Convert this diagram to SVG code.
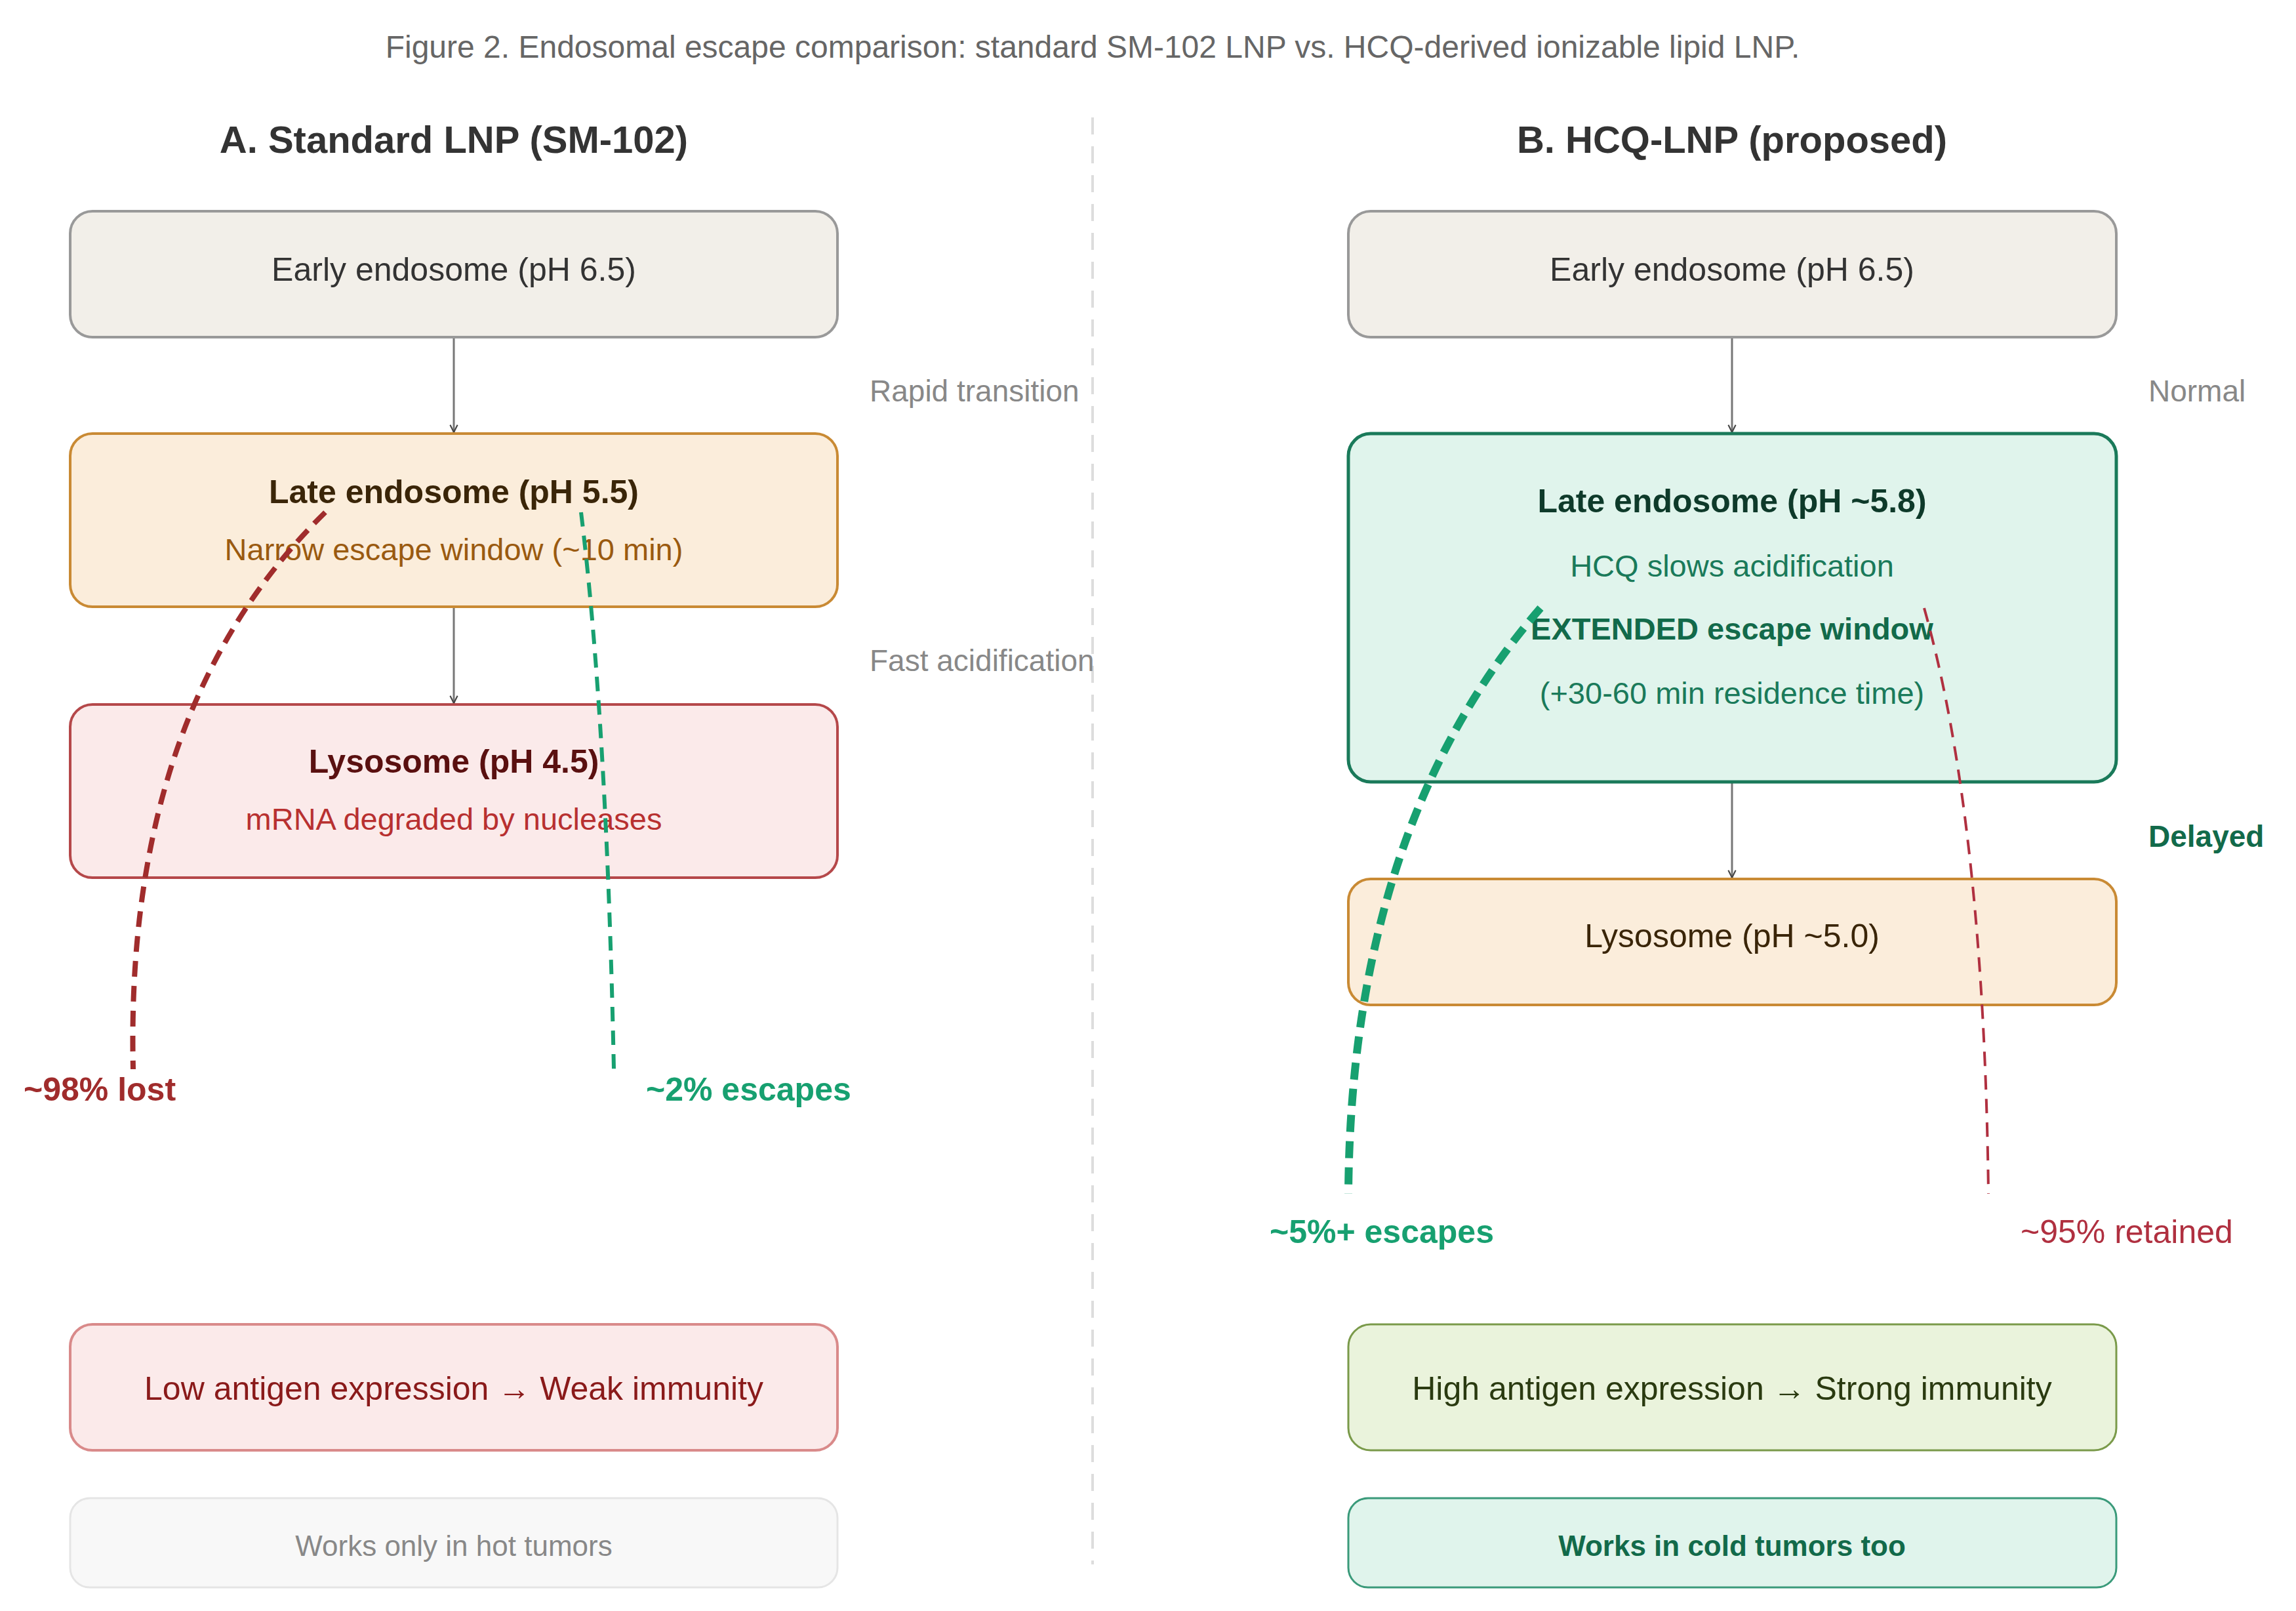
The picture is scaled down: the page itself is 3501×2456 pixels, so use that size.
<svg xmlns="http://www.w3.org/2000/svg" width="3501" height="2456" viewBox="0 0 3501 2456">
<style>
text{font-family:"Liberation Sans",Arial,sans-serif;text-anchor:middle;dominant-baseline:central}
.t{font-size:50px}
.b{font-weight:bold}
.side{font-size:46px;fill:#888;text-anchor:start}
.box{stroke-width:4}
.conn{stroke:#777;stroke-width:3;fill:none}
</style>
<defs>
<marker id="ah" viewBox="0 0 10 10" refX="9" refY="5" markerWidth="14" markerHeight="14" markerUnits="userSpaceOnUse" orient="auto"><path d="M1,1 L9,5 L1,9" fill="none" stroke="#444" stroke-width="1.5"/></marker>
</defs>
<rect width="3501" height="2456" fill="#fff"/>
<text x="1666" y="71" style="font-size:48px;fill:#666">Figure 2. Endosomal escape comparison: standard SM-102 LNP vs. HCQ-derived ionizable lipid LNP.</text>
<text x="692" y="212" class="b" style="font-size:58px;fill:#333">A. Standard LNP (SM-102)</text>
<text x="2641" y="212" class="b" style="font-size:58px;fill:#333">B. HCQ-LNP (proposed)</text>
<line x1="1666" y1="179" x2="1666" y2="2385" stroke="#ddd" stroke-width="4" stroke-dasharray="26,18"/>
<g id="connectors">
<line class="conn" x1="692" y1="514" x2="692" y2="659" marker-end="url(#ah)"/>
<line class="conn" x1="692" y1="925" x2="692" y2="1072" marker-end="url(#ah)"/>
<line class="conn" x1="2641" y1="514" x2="2641" y2="659" marker-end="url(#ah)"/>
<line class="conn" x1="2641" y1="1192" x2="2641" y2="1338" marker-end="url(#ah)"/>
</g>
<g id="a-early"><rect class="box" x="107" y="322" width="1170" height="192" rx="34" fill="#f2efe9" stroke="#999"/><text x="692" y="411" class="t" style="fill:#333">Early endosome (pH 6.5)</text></g>
<g id="a-late"><rect class="box" x="107" y="661" width="1170" height="264" rx="34" fill="#fbeddb" stroke="#c98a34"/><text x="692" y="750" class="t b" style="fill:#3a2508">Late endosome (pH 5.5)</text><text x="692" y="837" class="t" style="fill:#9a5a10;font-size:47px">Narrow escape window (~10 min)</text></g>
<g id="a-lyso"><rect class="box" x="107" y="1074" width="1170" height="264" rx="34" fill="#fbeaea" stroke="#b5484a"/><text x="692" y="1161" class="t b" style="fill:#5a1010">Lysosome (pH 4.5)</text><text x="692" y="1248" class="t" style="fill:#b83030;font-size:47px">mRNA degraded by nucleases</text></g>
<g id="a-out1"><rect class="box" x="107" y="2019" width="1170" height="192" rx="34" fill="#fbeaea" stroke="#d98a8a" stroke-width="3"/><text x="692" y="2117" class="t" style="fill:#8a1a1a">Low antigen expression → Weak immunity</text></g>
<g id="a-out2"><rect x="107" y="2284" width="1170" height="136" rx="30" fill="#f8f8f8" stroke="#e5e5e5" stroke-width="3"/><text x="692" y="2356" style="font-size:44px;fill:#888">Works only in hot tumors</text></g>
<g id="b-early"><rect class="box" x="2056" y="322" width="1171" height="192" rx="34" fill="#f2efe9" stroke="#999"/><text x="2641" y="411" class="t" style="fill:#333">Early endosome (pH 6.5)</text></g>
<g id="b-late"><rect x="2056" y="661" width="1171" height="531" rx="34" fill="#e0f4ec" stroke="#1a7a5a" stroke-width="5"/><text x="2641" y="764" class="t b" style="fill:#0e3a2a">Late endosome (pH ~5.8)</text><text x="2641" y="862" class="t" style="fill:#1a7a5a;font-size:47px">HCQ slows acidification</text><text x="2641" y="958" class="t b" style="fill:#126a4a;font-size:47px">EXTENDED escape window</text><text x="2641" y="1056" class="t" style="fill:#1a7a5a;font-size:47px">(+30-60 min residence time)</text></g>
<g id="b-lyso"><rect class="box" x="2056" y="1340" width="1171" height="192" rx="34" fill="#fbeddb" stroke="#c98a34"/><text x="2641" y="1427" class="t" style="fill:#3a2508">Lysosome (pH ~5.0)</text></g>
<g id="b-out1"><rect x="2056" y="2019" width="1171" height="192" rx="34" fill="#eaf3dc" stroke="#7a9a4a" stroke-width="3"/><text x="2641" y="2117" class="t" style="fill:#2a3a10">High antigen expression → Strong immunity</text></g>
<g id="b-out2"><rect x="2056" y="2284" width="1171" height="136" rx="30" fill="#e0f4ec" stroke="#3a9a7a" stroke-width="3"/><text x="2641" y="2356" class="b" style="font-size:44px;fill:#126a4a">Works in cold tumors too</text></g>
<g id="labels">
<text x="1326" y="596" class="side">Rapid transition</text>
<text x="1326" y="1007" class="side">Fast acidification</text>
<text x="3276" y="596" class="side">Normal</text>
<text x="3276" y="1275" class="side b" style="fill:#126a4a">Delayed</text>
</g>
<g id="escape-paths" fill="none">
<path d="M496,781 Q190,1080 203,1630" stroke="#a02c2c" stroke-width="8" stroke-dasharray="24,14"/>
<path d="M886,781 Q925,1100 936,1630" stroke="#17a070" stroke-width="6" stroke-dasharray="22,14"/>
<path d="M2349,927 Q2060,1260 2056,1820" stroke="#17a070" stroke-width="12" stroke-dasharray="26,14"/>
<path d="M2934,927 Q3025,1250 3032,1820" stroke="#b03040" stroke-width="4" stroke-dasharray="22,14"/>
<text x="36" y="1661" class="b" style="font-size:50px;fill:#a02c2c;text-anchor:start">~98% lost</text>
<text x="985" y="1661" class="b" style="font-size:50px;fill:#17a070;text-anchor:start">~2% escapes</text>
<text x="1936" y="1878" class="b" style="font-size:50px;fill:#17a070;text-anchor:start">~5%+ escapes</text>
<text x="3081" y="1878" style="font-size:50px;fill:#b03040;text-anchor:start">~95% retained</text>
</g>
</svg>
